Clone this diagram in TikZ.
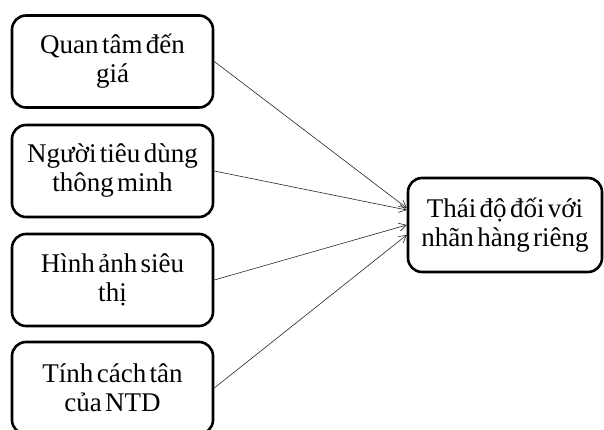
\documentclass[tikz,border=0pt]{standalone}
\usepackage{fontspec}
\setmainfont{Liberation Serif}[WordSpace=0.5]
\usetikzlibrary{arrows.meta}

\begin{document}
\begin{tikzpicture}[x=1pt, y=1pt,
		box/.style={draw, line width=2.6pt, rounded corners=14pt, minimum width=201pt, minimum height=92pt, align=center, font=\fontsize{27}{29}\selectfont},
		link/.style={-{Straight Barb[length=7pt,width=8pt]}, line width=0.6pt, black!85}]
				\useasboundingbox (0,0) rectangle (604,430);
				\node[box] (gia) at (112.5,368.5) {Quan tâm đến\\giá};
				\node[box] (ntd) at (112.5,259) {Người tiêu dùng\\thông minh};
				\node[box] (sieuthi) at (112.5,150) {Hình ảnh siêu\\thị};
				\node[box] (cachtan) at (112.5,42) {Tính cách tân\\của NTD};
				\node[box, minimum width=194pt, minimum height=94pt] (thaido) at (505,205) {Thái độ đối với\\nhãn hàng riêng};
				\foreach \s/\d in {gia/17, ntd/15, sieuthi/0, cachtan/-10}
					\draw[link] (\s.east) -- ([yshift=\d pt]thaido.west);
			\end{tikzpicture}
\end{document}
